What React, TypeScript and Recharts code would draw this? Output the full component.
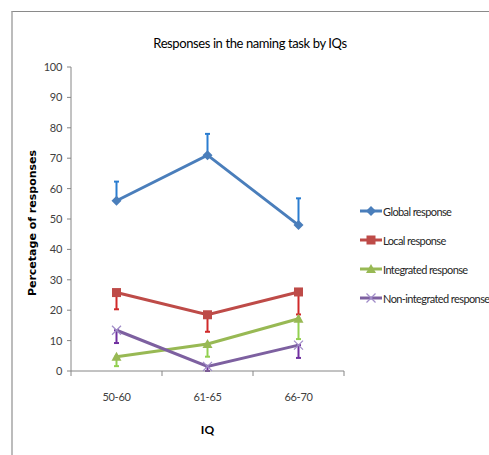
import React from 'react';
import { LineChart, Line, XAxis, YAxis, ErrorBar } from 'recharts';

const categories = ['50-60', '61-65', '66-70'];
const globalResp = [56, 71, 48];
const globalErrUp = [6.3, 7, 8.8];
const localResp = [25.8, 18.5, 26];
const localErrDown = [5.5, 5.6, 7.4];
const integratedResp = [4.7, 8.9, 17.2];
const integratedErrDown = [3.1, 4.2, 6.7];
const nonIntegratedResp = [13.4, 1.5, 8.5];
const nonIntegratedErrDown = [4.2, 1.5, 4.2];
const yTicks = [0, 10, 20, 30, 40, 50, 60, 70, 80, 90, 100];

const data = categories.map((c, i) => ({
  x: i + 0.5,
  cat: c,
  global: globalResp[i],
  globalErr: [0, globalErrUp[i]],
  local: localResp[i],
  localErr: [localErrDown[i], 0],
  integrated: integratedResp[i],
  integratedErr: [integratedErrDown[i], 0],
  nonIntegrated: nonIntegratedResp[i],
  nonIntegratedErr: [nonIntegratedErrDown[i], 0],
}));

const xTicks = [0, 0.5, 1, 1.5, 2, 2.5, 3];

type Shape = 'diamond' | 'square' | 'triangle' | 'x';

const series: { key: string; name: string; color: string; errColor: string; shape: Shape }[] = [
  { key: 'global', name: 'Global response', color: '#4A7EBB', errColor: '#2B7DD0', shape: 'diamond' },
  { key: 'local', name: 'Local response', color: '#BE4B48', errColor: '#D02A2A', shape: 'square' },
  { key: 'integrated', name: 'Integrated response', color: '#98B954', errColor: '#92D050', shape: 'triangle' },
  { key: 'nonIntegrated', name: 'Non-integrated response', color: '#7D60A0', errColor: '#7030A0', shape: 'x' },
];

function Marker({ cx, cy, shape, color }: { cx: number; cy: number; shape: Shape; color: string }) {
  if (cx == null || cy == null) return null;
  if (shape === 'diamond') {
    const r = 5;
    return <polygon points={`${cx},${cy - r} ${cx + r},${cy} ${cx},${cy + r} ${cx - r},${cy}`} fill={color} />;
  }
  if (shape === 'square') {
    const r = 4.5;
    return <rect x={cx - r} y={cy - r} width={2 * r} height={2 * r} fill={color} />;
  }
  if (shape === 'triangle') {
    return <polygon points={`${cx},${cy - 5} ${cx + 5},${cy + 4} ${cx - 5},${cy + 4}`} fill={color} />;
  }
  const r = 4.5;
  return (
    <g stroke="#A08CC8" strokeWidth={1.2}>
      <line x1={cx - r} y1={cy - r} x2={cx + r} y2={cy + r} />
      <line x1={cx - r} y1={cy + r} x2={cx + r} y2={cy - r} />
    </g>
  );
}

const XTick = (props: any) => {
  const { x, y, payload } = props;
  const v = payload.value;
  if (Number.isInteger(v)) {
    return <line x1={x} y1={y} x2={x} y2={y + 5} stroke="#868686" strokeWidth={1} />;
  }
  return (
    <text x={x} y={y + 30} textAnchor="middle" fontSize={11} fill="#404040" fontFamily="Lato" letterSpacing={-0.3}>
      {categories[Math.floor(v)]}
    </text>
  );
};

const YLabel = () => {
  const cx = 36;
  const cy = 223;
  return (
    <text
      x={cx}
      y={cy}
      transform={`rotate(-90, ${cx}, ${cy})`}
      textAnchor="middle"
      fontFamily="DejaVu Sans"
      fontWeight="bold"
      fontSize={11}
      fill="#000"
    >
      Percetage of responses
    </text>
  );
};

export default function App() {
  return (
    <div style={{ position: 'absolute', left: 0, top: 0, width: 489, height: 455, background: '#fff', overflow: 'hidden' }}>
      <div
        style={{
          position: 'absolute',
          left: 11,
          top: 11,
          width: 490,
          height: 460,
          borderLeft: '2px solid #bcbcbc',
          borderTop: '1.5px solid #8a8a8a',
        }}
      />
      <div
        style={{
          position: 'absolute',
          left: 0,
          top: 35,
          width: 500,
          textAlign: 'center',
          fontFamily: 'Lato',
          fontSize: 13,
          lineHeight: '16px',
          letterSpacing: '-0.4px',
          color: '#000',
        }}
      >
        Responses in the naming task by IQs
      </div>
      <div style={{ position: 'absolute', left: 0, top: 0 }}>
        <LineChart width={489} height={455} data={data} margin={{ top: 67, right: 145, left: 11, bottom: 54 }}>
          <XAxis
            dataKey="x"
            type="number"
            domain={[0, 3]}
            ticks={xTicks}
            interval={0}
            tick={<XTick />}
            tickLine={false}
            tickSize={0}
            tickMargin={0}
            height={30}
            axisLine={{ stroke: '#868686' }}
            label={{ value: 'IQ', position: 'bottom', offset: 24, fontFamily: 'Lato', fontWeight: 'bold', fontSize: 12, fill: '#000' }}
          />
          <YAxis
            domain={[0, 100]}
            ticks={yTicks}
            interval={0}
            width={60}
            tickSize={4}
            tickMargin={5}
            tickLine={{ stroke: '#868686' }}
            axisLine={{ stroke: '#868686' }}
            tick={{ fontSize: 11, fill: '#404040', fontFamily: 'Lato', letterSpacing: -0.3 }}
            label={{ content: <YLabel /> }}
          />
          {series.map((s) => (
            <Line
              key={s.key}
              dataKey={s.key}
              name={s.name}
              stroke={s.color}
              strokeWidth={3}
              isAnimationActive={false}
              dot={(p: any) => <Marker key={`${s.key}-${p.index}`} cx={p.cx} cy={p.cy} shape={s.shape} color={s.color} />}
              activeDot={false}
            >
              <ErrorBar dataKey={`${s.key}Err`} direction="y" width={2.5} stroke={s.errColor} strokeWidth={2} isAnimationActive={false} />
            </Line>
          ))}
        </LineChart>
      </div>
      <div style={{ position: 'absolute', left: 358, top: 201 }}>
        {series.map((s) => (
          <div key={s.key} style={{ display: 'flex', alignItems: 'center', height: 20, marginBottom: 9 }}>
            <svg width={25} height={20} style={{ display: 'block' }}>
              <line x1={2} y1={10} x2={24} y2={10} stroke={s.color} strokeWidth={3} />
              <Marker cx={13} cy={10} shape={s.shape} color={s.color} />
            </svg>
            <span style={{ fontFamily: 'Lato', fontSize: 11, letterSpacing: '-0.6px', color: '#262626', whiteSpace: 'nowrap' }}>{s.name}</span>
          </div>
        ))}
      </div>
    </div>
  );
}
